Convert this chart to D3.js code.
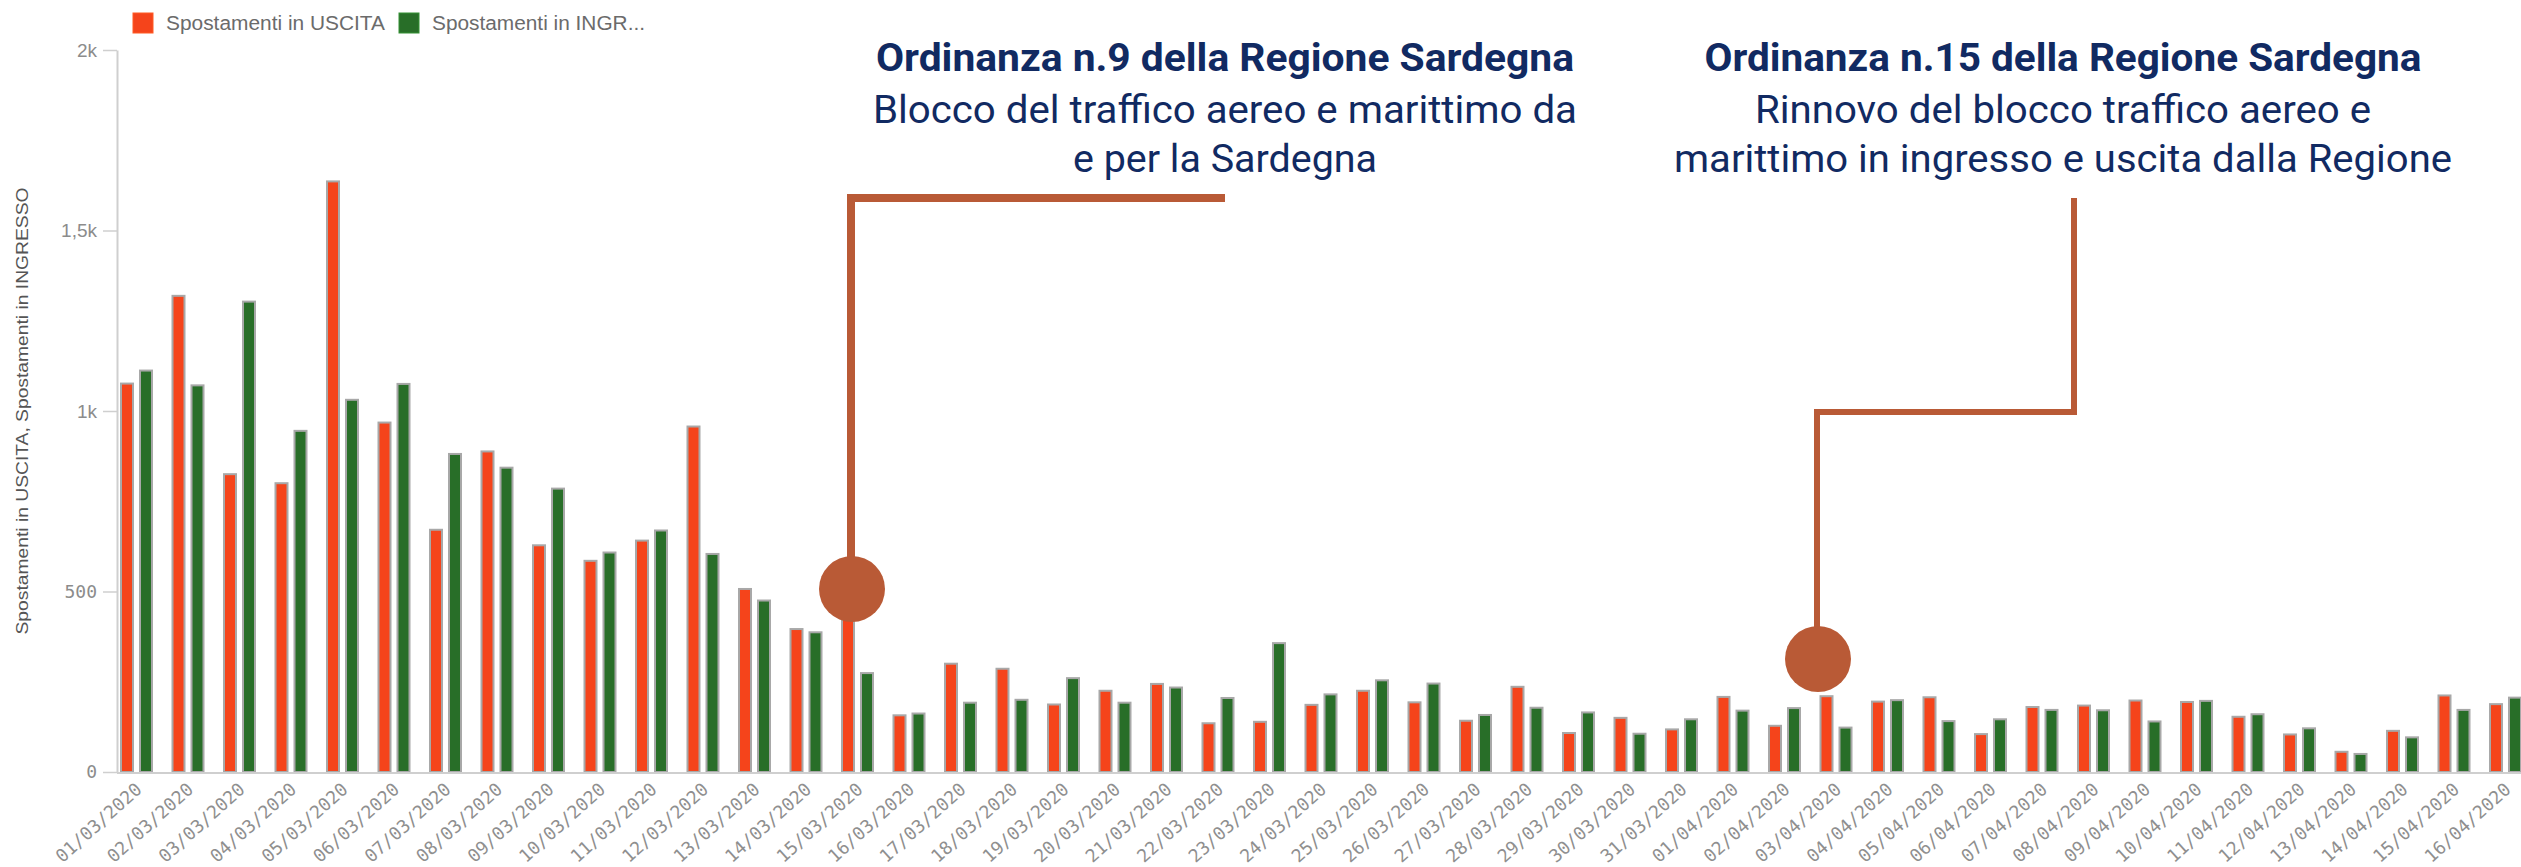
<!DOCTYPE html>
<html>
<head>
<meta charset="utf-8">
<script src="https://cdn.jsdelivr.net/npm/d3@7"></script>
<style>
  body { margin: 0; background: #fff; }
  svg { display: block; }
</style>
</head>
<body>
<svg id="chart" width="2521" height="867"></svg>
<script>
// Daily movements to/from Sardinia, 1 March – 16 April 2020
const dates = [
  "01/03/2020","02/03/2020","03/03/2020","04/03/2020","05/03/2020","06/03/2020","07/03/2020",
  "08/03/2020","09/03/2020","10/03/2020","11/03/2020","12/03/2020","13/03/2020","14/03/2020",
  "15/03/2020","16/03/2020","17/03/2020","18/03/2020","19/03/2020","20/03/2020","21/03/2020",
  "22/03/2020","23/03/2020","24/03/2020","25/03/2020","26/03/2020","27/03/2020","28/03/2020",
  "29/03/2020","30/03/2020","31/03/2020","01/04/2020","02/04/2020","03/04/2020","04/04/2020",
  "05/04/2020","06/04/2020","07/04/2020","08/04/2020","09/04/2020","10/04/2020","11/04/2020",
  "12/04/2020","13/04/2020","14/04/2020","15/04/2020","16/04/2020"
];

// Spostamenti in USCITA (outgoing)
const uscita = [
  1076, 1319, 825, 800, 1636, 968, 671,
  888, 628, 585, 641, 957, 507, 396,
  470, 157, 300, 286, 187, 225, 244,
  135, 139, 186, 225, 193, 142, 236,
  108, 150, 118, 208, 128, 210, 195,
  207, 105, 180, 184, 198, 194, 153,
  104, 56, 114, 212, 188
];

// Spostamenti in INGRESSO (incoming)
const ingresso = [
  1112, 1071, 1303, 945, 1031, 1075, 881,
  843, 785, 608, 669, 604, 475, 387,
  274, 162, 192, 200, 260, 192, 234,
  205, 357, 215, 254, 245, 158, 178,
  165, 106, 146, 170, 177, 123, 199,
  141, 146, 172, 171, 140, 197, 160,
  121, 50, 96, 172, 206
];

const yTickValues = [0, 500, 1000, 1500, 2000];
const yTickLabels = ["0", "500", "1k", "1,5k", "2k"];

const legendLabels = ["Spostamenti in USCITA", "Spostamenti in INGR..."];
const yAxisTitle = "Spostamenti in USCITA, Spostamenti in INGRESSO";

// Annotated events
const eventDates = ["15/03/2020", "03/04/2020"];
const eventTitles = ["Ordinanza n.9 della Regione Sardegna", "Ordinanza n.15 della Regione Sardegna"];
const eventLines = [
  ["Blocco del traffico aereo e marittimo da", "e per la Sardegna"],
  ["Rinnovo del blocco traffico aereo e", "marittimo in ingresso e uscita dalla Regione"]
];

// ---- drawing ----
const COLOR_OUT = "#f5441b";
const COLOR_IN = "#286e28";
const BAR_EDGE = "#a8a8a8";
const AXIS_GREY = "#cfcfcf";
const NOTE_COLOR = "#b95a36";
const NOTE_TEXT = "#112a62";

const svg = d3.select("#chart");

const y = d3.scaleLinear().domain([0, 2000]).range([772, 50]);
const x = d3.scaleBand().domain(dates).range([110.25, 2530.75]).padding(0);
const xc = d => x(d) + x.bandwidth() / 2;
const axisX = 117;

// Y axis
const yAxis = d3.axisLeft(y)
  .tickValues(yTickValues)
  .tickFormat((d, i) => yTickLabels[i])
  .tickSize(14)
  .tickSizeOuter(0)
  .tickPadding(6);

const isK = d => d >= 1000;
const gy = svg.append("g").attr("transform", `translate(${axisX},0)`).call(yAxis);
gy.select(".domain").attr("stroke", AXIS_GREY).attr("stroke-width", 2);
gy.selectAll(".tick line").attr("stroke", AXIS_GREY).attr("stroke-width", 1.5);
gy.selectAll(".tick text")
  .attr("fill", "#8c8c8c")
  .style("font-family", d => isK(d) ? "'Liberation Sans', Arial, sans-serif" : "'DejaVu Sans Mono', monospace")
  .style("font-size", d => isK(d) ? "19px" : "18px");

// Y axis title
svg.append("text")
  .attr("transform", "translate(24,411) rotate(-90)")
  .attr("text-anchor", "middle")
  .attr("dominant-baseline", "middle")
  .attr("fill", "#555")
  .style("font-family", "'Liberation Sans', Arial, sans-serif")
  .style("font-size", "17px")
  .attr("textLength", 447)
  .attr("lengthAdjust", "spacingAndGlyphs")
  .text(yAxisTitle);

// Bars
const bars = svg.append("g");
bars.selectAll("rect.out")
  .data(dates)
  .join("rect")
  .attr("class", "out")
  .attr("x", d => xc(d) - 15)
  .attr("width", 12)
  .attr("y", (d, i) => y(uscita[i]))
  .attr("height", (d, i) => y(0) - y(uscita[i]))
  .attr("fill", COLOR_OUT)
  .attr("stroke", BAR_EDGE)
  .attr("stroke-width", 2);

bars.selectAll("rect.in")
  .data(dates)
  .join("rect")
  .attr("class", "in")
  .attr("x", d => xc(d) + 4)
  .attr("width", 12)
  .attr("y", (d, i) => y(ingresso[i]))
  .attr("height", (d, i) => y(0) - y(ingresso[i]))
  .attr("fill", COLOR_IN)
  .attr("stroke", BAR_EDGE)
  .attr("stroke-width", 2);

// X axis line
svg.append("line")
  .attr("x1", axisX).attr("x2", 2521)
  .attr("y1", y(0) + 1).attr("y2", y(0) + 1)
  .attr("stroke", AXIS_GREY).attr("stroke-width", 2);

// X tick labels (rotated)
svg.append("g")
  .selectAll("text")
  .data(dates)
  .join("text")
  .attr("transform", d => `translate(${xc(d) + 7},791) rotate(-42)`)
  .attr("text-anchor", "end")
  .attr("fill", "#8f8f8f")
  .style("font-family", "'DejaVu Sans Mono', monospace")
  .style("font-size", "18px")
  .text(d => d);

// Legend
const legendColors = [COLOR_OUT, COLOR_IN];
const legendX = [133, 399];
const legendTextLen = [219, 213];
const lg = svg.append("g");
legendLabels.forEach((name, i) => {
  lg.append("rect")
    .attr("x", legendX[i]).attr("y", 13)
    .attr("width", 20).attr("height", 20)
    .attr("fill", legendColors[i])
    .attr("stroke", d3.color(legendColors[i]).brighter(0.8))
    .attr("stroke-width", 1);
  lg.append("text")
    .attr("x", legendX[i] + 33).attr("y", 30)
    .attr("fill", "#6b6b6b")
    .style("font-family", "'Liberation Sans', Arial, sans-serif")
    .style("font-size", "20px")
    .attr("textLength", legendTextLen[i])
    .attr("lengthAdjust", "spacingAndGlyphs")
    .text(name);
});

// Annotations: connector, marker and explanatory text
const notes = svg.append("g");

// Event 1: connector drops straight down from the text block
{
  const cx = xc(eventDates[0]) - 5, cy = 589, r = 33;
  notes.append("path")
    .attr("d", `M1225,198 H${cx - 1} V${cy - r + 2}`)
    .attr("fill", "none").attr("stroke", NOTE_COLOR).attr("stroke-width", 8);
  notes.append("circle").attr("cx", cx).attr("cy", cy).attr("r", r).attr("fill", NOTE_COLOR);
}
// Event 2: connector with an elbow
{
  const cx = xc(eventDates[1]) - 17.5, cy = 659, r = 33;
  notes.append("path")
    .attr("d", `M2074,198 V412 H${cx - 1} V${cy - r + 2}`)
    .attr("fill", "none").attr("stroke", NOTE_COLOR).attr("stroke-width", 6);
  notes.append("circle").attr("cx", cx).attr("cy", cy).attr("r", r).attr("fill", NOTE_COLOR);
}

const textCenters = [1225, 2063];
const titleLens = [698, 717];
const lineLens = [[704, 304], [616, 778]];
eventTitles.forEach((t, i) => {
  notes.append("text")
    .attr("x", textCenters[i]).attr("y", 71)
    .attr("text-anchor", "middle")
    .attr("fill", NOTE_TEXT)
    .style("font-family", "Roboto, 'Open Sans', sans-serif")
    .style("font-weight", 700)
    .style("font-size", "39px")
    .attr("textLength", titleLens[i])
    .attr("lengthAdjust", "spacingAndGlyphs")
    .text(t);
  eventLines[i].forEach((line, j) => {
    notes.append("text")
      .attr("x", textCenters[i]).attr("y", 123 + j * 49)
      .attr("text-anchor", "middle")
      .attr("fill", NOTE_TEXT)
      .style("font-family", "Roboto, 'Open Sans', sans-serif")
      .style("font-weight", 400)
      .style("font-size", "38px")
      .attr("textLength", lineLens[i][j])
      .attr("lengthAdjust", "spacingAndGlyphs")
      .text(line);
  });
});
</script>
</body>
</html>
